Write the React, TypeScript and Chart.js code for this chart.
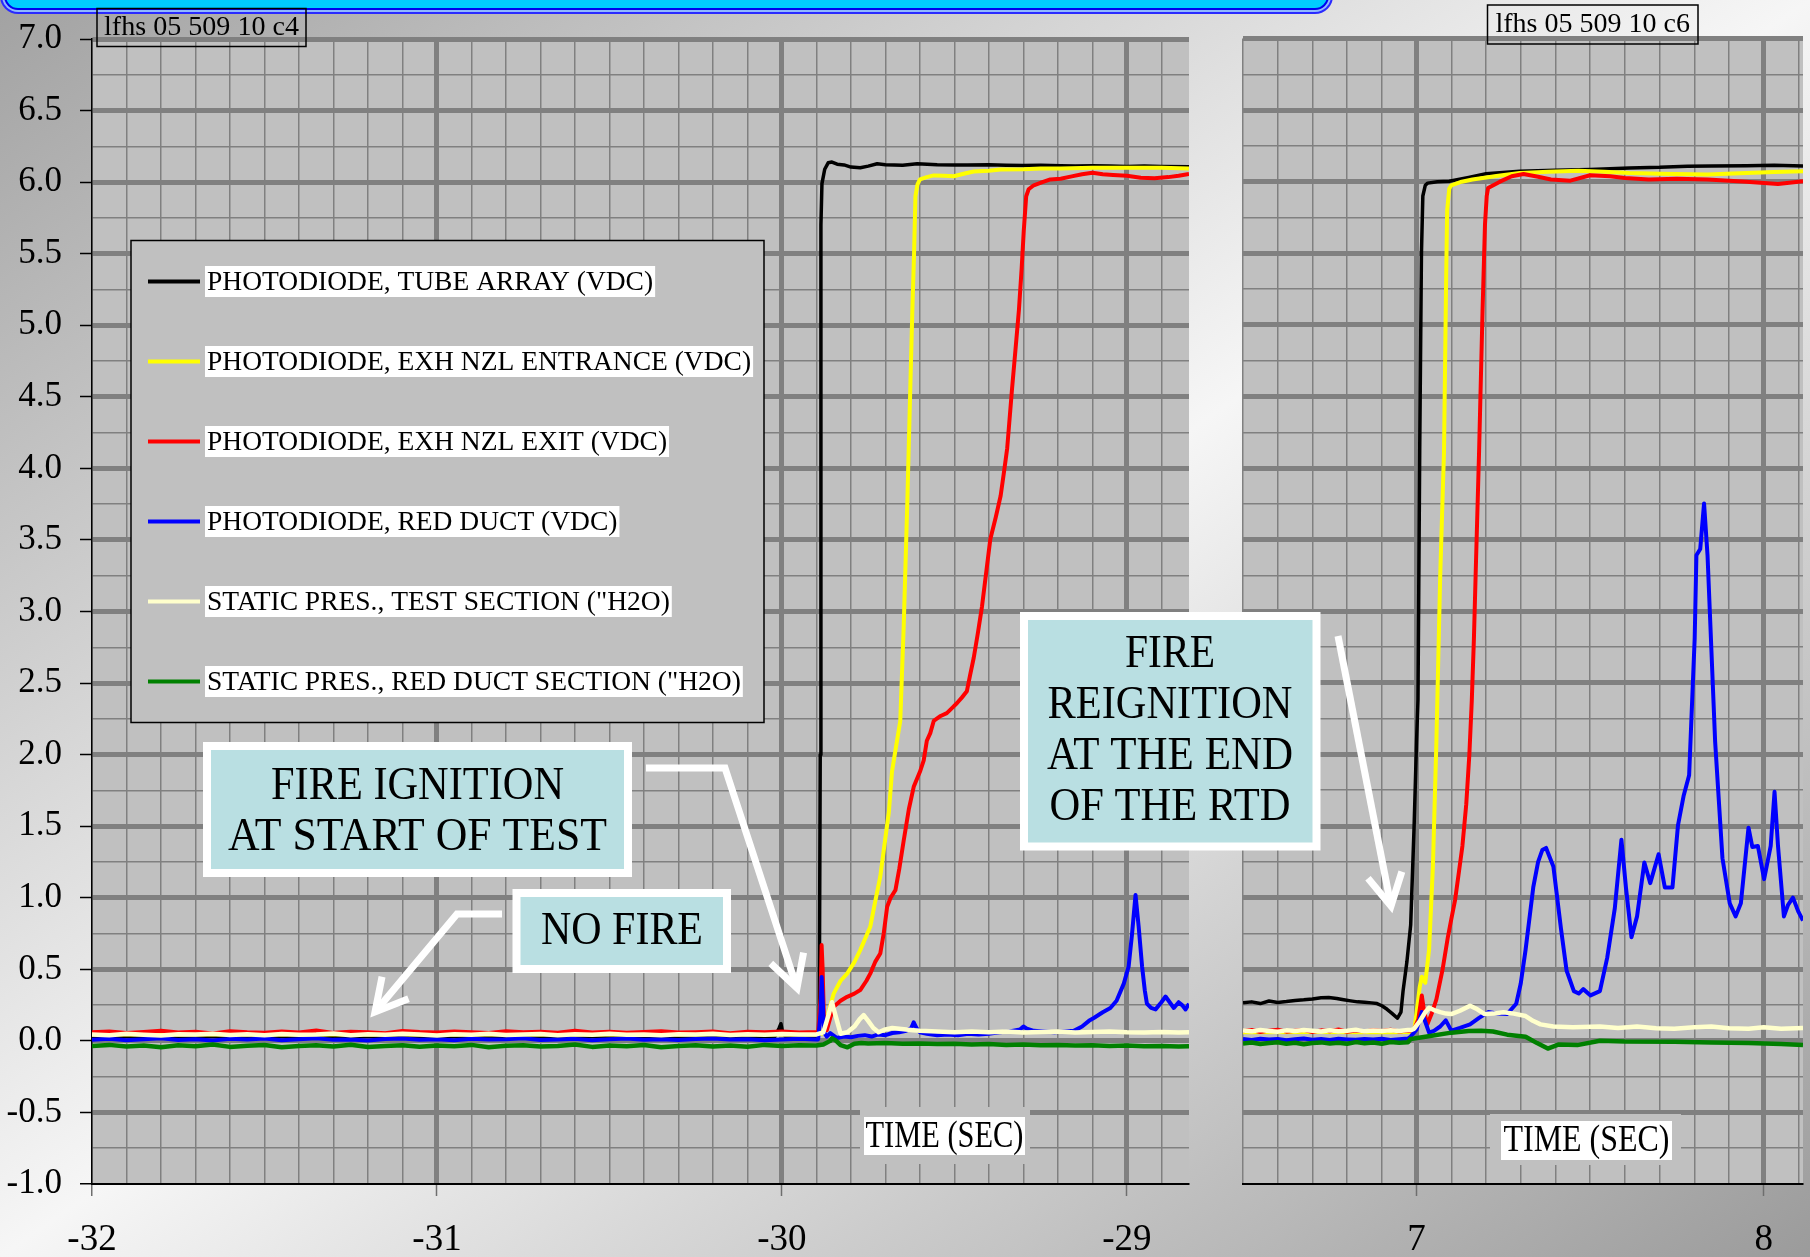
import React, { useEffect, useRef } from 'react';
import { Chart, registerables } from 'chart.js';

Chart.register(...registerables);

const W = 1810;
const H = 1257;
const SERIF = '"Liberation Serif", "Times New Roman", serif';

// ---------- series names and colours ----------
const SERIES_LABELS = [
  'PHOTODIODE, TUBE ARRAY (VDC)',
  'PHOTODIODE, EXH NZL ENTRANCE (VDC)',
  'PHOTODIODE, EXH NZL EXIT (VDC)',
  'PHOTODIODE, RED DUCT (VDC)',
  'STATIC PRES., TEST SECTION ("H2O)',
  'STATIC PRES., RED DUCT SECTION ("H2O)',
];
const SERIES_COLORS = ['#000000', '#ffff00', '#ff0000', '#0000ff', '#ffffcc', '#008000'];
const SERIES_WIDTHS = [3.5, 4, 4, 4, 4.5, 4.5];

// ---------- axis labels ----------
const LEFT_X_LABELS = [-32, -31, -30, -29];
const RIGHT_X_LABELS = [7, 8];
const Y_LABELS = [-1, -0.5, 0, 0.5, 1, 1.5, 2, 2.5, 3, 3.5, 4, 4.5, 5, 5.5, 6, 6.5, 7];

// ---------- start of test (left panel), seconds ----------
const LEFT_BASE_T = [
  -32, -31.95, -31.9, -31.85, -31.8, -31.75, -31.7, -31.65, -31.6, -31.55, -31.5, -31.45, -31.4, -31.35,
  -31.3, -31.25, -31.2, -31.15, -31.1, -31.05, -31, -30.95, -30.9, -30.85, -30.8, -30.75, -30.7, -30.65,
  -30.6, -30.55, -30.5, -30.45, -30.4, -30.35, -30.3, -30.25, -30.2, -30.15, -30.1, -30.05, -30, -29.95, -29.9,
];

const TUBE_T_LEFT = [
  -32, -31, -30.02, -30.008, -30.003, -29.998, -29.99, -29.9, -29.892, -29.889, -29.887, -29.884, -29.876,
  -29.866, -29.855, -29.84, -29.82, -29.8, -29.773, -29.75, -29.724, -29.7, -29.65, -29.608, -29.55, -29.5,
  -29.463, -29.4, -29.35, -29.3, -29.25, -29.192, -29.15, -29.1, -29.05, -29.0, -28.95, -28.9, -28.82,
];
const TUBE_V_LEFT = [
  0.03, 0.03, 0.03, 0.09, 0.12, 0.06, 0.03, 0.03, 0.05, 2.0, 5.7, 5.99, 6.09, 6.135, 6.14, 6.125, 6.12,
  6.105, 6.1, 6.112, 6.128, 6.122, 6.118, 6.128, 6.122, 6.12, 6.12, 6.122, 6.118, 6.116, 6.118, 6.115,
  6.113, 6.114, 6.112, 6.11, 6.112, 6.11, 6.108,
];

const ENTR_T_LEFT = [
  -32, -31, -30, -29.9, -29.885, -29.879, -29.865, -29.85, -29.83, -29.811, -29.79, -29.773, -29.744,
  -29.73, -29.715, -29.7, -29.69, -29.681, -29.671, -29.657, -29.647, -29.637, -29.628, -29.622, -29.617,
  -29.613, -29.607, -29.6, -29.58, -29.56, -29.53, -29.502, -29.47, -29.444, -29.4, -29.366, -29.3, -29.25,
  -29.192, -29.1, -29.0, -28.9, -28.82,
];
const ENTR_V_LEFT = [
  0.045, 0.045, 0.045, 0.045, 0.05, 0.075, 0.2, 0.33, 0.42, 0.47, 0.55, 0.634, 0.797, 0.97, 1.147, 1.42,
  1.6, 1.88, 2.03, 2.235, 2.898, 3.727, 4.555, 5.1, 5.5, 5.9, 5.985, 6.019, 6.035, 6.047, 6.045, 6.041,
  6.06, 6.074, 6.08, 6.088, 6.09, 6.095, 6.096, 6.1, 6.1, 6.1, 6.095,
];

const EXIT_BASE_LEFT = [
  0.06, 0.066, 0.055, 0.062, 0.07, 0.058, 0.064, 0.052, 0.068, 0.061, 0.057, 0.066, 0.059, 0.072, 0.056,
  0.063, 0.06, 0.054, 0.069, 0.062, 0.058, 0.065, 0.061, 0.055, 0.067, 0.06, 0.063, 0.057, 0.071, 0.059,
  0.064, 0.056, 0.062, 0.068, 0.058, 0.061, 0.066, 0.054, 0.063, 0.06, 0.065, 0.059, 0.062,
];
const EXIT_T_LEFT = [
  -29.895, -29.888, -29.885, -29.882, -29.878, -29.87, -29.86, -29.85, -29.83, -29.811,
  -29.79, -29.773, -29.755, -29.744, -29.73, -29.715, -29.705, -29.695, -29.685, -29.671,
  -29.66, -29.647, -29.632, -29.618, -29.6, -29.589, -29.58, -29.57, -29.56, -29.54,
  -29.522, -29.505, -29.493, -29.478, -29.464, -29.455, -29.444, -29.432, -29.42, -29.408,
  -29.396, -29.38, -29.366, -29.356, -29.347, -29.333, -29.323, -29.313, -29.305, -29.299,
  -29.292, -29.285, -29.27, -29.245, -29.222, -29.192, -29.16, -29.13, -29.1, -29.07,
  -29.04, -29.0, -28.96, -28.92, -28.88, -28.85, -28.82,
];
const EXIT_V_LEFT = [
  0.06, 0.3, 0.67, 0.5, 0.12, 0.075, 0.16, 0.238, 0.28, 0.308,
  0.33, 0.355, 0.42, 0.47, 0.55, 0.61, 0.75, 0.937, 1.0, 1.053,
  1.2, 1.4, 1.62, 1.775, 1.88, 1.96, 2.097, 2.15, 2.235, 2.27,
  2.29, 2.33, 2.359, 2.4, 2.442, 2.55, 2.677, 2.85, 3.036, 3.27,
  3.505, 3.66, 3.809, 3.98, 4.141, 4.555, 4.83, 5.107, 5.4, 5.66,
  5.9, 5.95, 5.978, 6.0, 6.019, 6.024, 6.04, 6.055, 6.066, 6.055,
  6.05, 6.045, 6.03, 6.027, 6.035, 6.045, 6.057,
];

const DUCT_BASE_LEFT = [
  0.008, 0.015, 0.004, 0.012, 0.018, 0.006, 0.011, 0.002, 0.014, 0.009, 0.016, 0.005, 0.012, 0.019, 0.007,
  0.01, 0.003, 0.013, 0.017, 0.008, 0.011, 0.005, 0.015, 0.009, 0.012, 0.018, 0.006, 0.01, 0.014, 0.004,
  0.012, 0.016, 0.008, 0.011, 0.006, 0.013, 0.017, 0.009, 0.012, 0.005, 0.01, 0.014, 0.01,
];
const DUCT_T_LEFT = [
  -29.895, -29.888, -29.885, -29.882, -29.878, -29.87, -29.86, -29.84, -29.82, -29.8,
  -29.78, -29.76, -29.74, -29.72, -29.7, -29.68, -29.66, -29.64, -29.625, -29.618,
  -29.61, -29.6, -29.58, -29.55, -29.52, -29.49, -29.46, -29.43, -29.4, -29.37,
  -29.34, -29.31, -29.3, -29.29, -29.27, -29.24, -29.21, -29.18, -29.154, -29.13,
  -29.11, -29.096, -29.07, -29.048, -29.03, -29.009, -28.995, -28.985, -28.975, -28.966,
  -28.956, -28.948, -28.942, -28.93, -28.917, -28.9, -28.888, -28.876, -28.864, -28.85,
  -28.84, -28.83, -28.82,
];
const DUCT_V_LEFT = [
  0.01, 0.2, 0.447, 0.3, 0.06, 0.03, 0.054, 0.02, 0.03, 0.025,
  0.035, 0.04, 0.03, 0.045, 0.04, 0.055, 0.06, 0.07, 0.09, 0.13,
  0.09, 0.06, 0.05, 0.04, 0.045, 0.04, 0.05, 0.045, 0.05, 0.06,
  0.065, 0.08, 0.1, 0.085, 0.07, 0.065, 0.06, 0.065, 0.07, 0.1,
  0.14, 0.16, 0.2, 0.23, 0.28, 0.4, 0.52, 0.75, 1.02, 0.8,
  0.52, 0.35, 0.26, 0.23, 0.22, 0.27, 0.31, 0.27, 0.23, 0.27,
  0.25, 0.22, 0.26,
];

const TEST_BASE_LEFT = [
  0.045, 0.04, 0.049, 0.043, 0.038, 0.047, 0.044, 0.05, 0.041, 0.046, 0.039, 0.048, 0.043, 0.045, 0.051,
  0.04, 0.046, 0.042, 0.049, 0.044, 0.038, 0.047, 0.043, 0.05, 0.041, 0.045, 0.048, 0.039, 0.046, 0.043,
  0.049, 0.042, 0.045, 0.04, 0.047, 0.044, 0.05, 0.041, 0.046, 0.043, 0.048, 0.044, 0.045,
];
const TEST_T_LEFT = [
  -29.88, -29.865, -29.855, -29.845, -29.83, -29.81, -29.79, -29.775, -29.763, -29.75, -29.735, -29.72,
  -29.7, -29.68, -29.66, -29.64, -29.62, -29.6, -29.55, -29.5, -29.45, -29.4, -29.35, -29.3, -29.25, -29.2,
  -29.15, -29.1, -29.05, -29.0, -28.95, -28.9, -28.85, -28.82,
];
const TEST_V_LEFT = [
  0.06, 0.18, 0.27, 0.18, 0.05, 0.06, 0.1, 0.15, 0.18, 0.14, 0.09, 0.06, 0.08, 0.09, 0.085, 0.08, 0.075,
  0.07, 0.065, 0.06, 0.065, 0.06, 0.065, 0.058, 0.062, 0.065, 0.058, 0.062, 0.065, 0.06, 0.058, 0.062,
  0.058, 0.06,
];

const RDS_BASE_LEFT = [
  -0.035, -0.028, -0.04, -0.032, -0.045, -0.03, -0.038, -0.026, -0.042, -0.034, -0.029, -0.044, -0.036,
  -0.031, -0.039, -0.027, -0.043, -0.035, -0.03, -0.041, -0.033, -0.037, -0.028, -0.045, -0.034, -0.03,
  -0.04, -0.036, -0.026, -0.042, -0.032, -0.038, -0.029, -0.044, -0.035, -0.031, -0.039, -0.033, -0.041,
  -0.028, -0.036, -0.03, -0.032,
];
const RDS_T_LEFT = [
  -29.88, -29.86, -29.855, -29.845, -29.83, -29.81, -29.79, -29.77, -29.75, -29.7, -29.65, -29.6, -29.55,
  -29.5, -29.45, -29.4, -29.35, -29.3, -29.25, -29.2, -29.15, -29.1, -29.05, -29.0, -28.95, -28.9, -28.85,
  -28.82,
];
const RDS_V_LEFT = [
  -0.025, 0.0, 0.018, 0.005, -0.03, -0.045, -0.02, -0.015, -0.018, -0.015, -0.02, -0.018, -0.022, -0.02,
  -0.025, -0.022, -0.028, -0.025, -0.03, -0.028, -0.032, -0.03, -0.035, -0.032, -0.038, -0.035, -0.04,
  -0.038,
];

// ---------- end of the RTD (right panel), seconds ----------
const RIGHT_BASE_T = [
  6.5, 6.525, 6.55, 6.575, 6.6, 6.625, 6.65, 6.675, 6.7, 6.725, 6.75, 6.775, 6.8, 6.825, 6.85, 6.875, 6.9,
  6.925, 6.95, 6.975,
];

const TUBE_T_RIGHT = [
  6.5, 6.525, 6.55, 6.575, 6.6, 6.625, 6.65, 6.675, 6.7, 6.725,
  6.747, 6.77, 6.79, 6.81, 6.83, 6.85, 6.87, 6.886, 6.9, 6.915,
  6.93, 6.945, 6.955, 6.961, 6.972, 6.983, 6.993, 7.0, 7.004, 7.009,
  7.014, 7.018, 7.025, 7.032, 7.06, 7.094, 7.15, 7.2, 7.297, 7.4,
  7.5, 7.613, 7.7, 7.78, 7.85, 7.951, 8.03, 8.113,
];
const TUBE_V_RIGHT = [
  0.265, 0.272, 0.26, 0.278, 0.268, 0.274, 0.282, 0.286, 0.292, 0.3,
  0.303, 0.296, 0.287, 0.279, 0.272, 0.27, 0.265, 0.26, 0.245, 0.22,
  0.19, 0.158, 0.2, 0.347, 0.55, 0.81, 1.51, 2.1, 2.38, 4.12,
  5.5, 5.9, 5.975, 5.99, 6.0, 6.003, 6.03, 6.055, 6.073, 6.08,
  6.085, 6.096, 6.1, 6.108, 6.11, 6.112, 6.115, 6.11,
];

const ENTR_T_RIGHT = [
  6.5, 6.7, 6.9, 6.98, 6.993, 7.0, 7.009, 7.015, 7.025, 7.036, 7.047, 7.057, 7.068, 7.079, 7.085, 7.088,
  7.094, 7.1, 7.13, 7.161, 7.23, 7.297, 7.38, 7.466, 7.54, 7.613, 7.7, 7.838, 7.95, 8.03, 8.113,
];
const ENTR_V_RIGHT = [
  0.06, 0.062, 0.06, 0.062, 0.071, 0.2, 0.375, 0.448, 0.405, 0.637, 1.217, 2.086, 3.246, 4.116, 5.3, 5.8,
  5.95, 5.975, 6.0, 6.015, 6.04, 6.061, 6.07, 6.077, 6.07, 6.061, 6.055, 6.05, 6.06, 6.068, 6.073,
];

const EXIT_BASE_RIGHT = [
  0.068, 0.075, 0.062, 0.071, 0.078, 0.064, 0.07, 0.076, 0.061, 0.073, 0.067, 0.079, 0.063, 0.072, 0.066,
  0.074, 0.069, 0.077, 0.065, 0.072,
];
const EXIT_T_RIGHT = [
  6.985, 6.993, 7.005, 7.015, 7.022, 7.031, 7.045, 7.057, 7.075, 7.09,
  7.1, 7.111, 7.122, 7.132, 7.143, 7.152, 7.159, 7.165, 7.17, 7.18,
  7.19, 7.197, 7.202, 7.206, 7.24, 7.274, 7.308, 7.35, 7.387, 7.443,
  7.5, 7.557, 7.6, 7.669, 7.75, 7.838, 7.95, 8.041, 8.08, 8.113,
];
const EXIT_V_RIGHT = [
  0.07, 0.08, 0.15, 0.317, 0.2, 0.115, 0.2, 0.289, 0.5, 0.723,
  0.85, 0.985, 1.18, 1.361, 1.651, 2.0, 2.376, 2.8, 3.246, 4.116,
  5.1, 5.7, 5.9, 5.956, 6.0, 6.038, 6.054, 6.035, 6.015, 6.007,
  6.045, 6.038, 6.025, 6.015, 6.02, 6.015, 6.0, 5.984, 5.995, 6.003,
];

const DUCT_BASE_RIGHT = [
  0.012, 0.006, 0.015, 0.009, 0.013, 0.004, 0.011, 0.016, 0.008, 0.012, 0.005, 0.014, 0.01, 0.007, 0.013,
  0.009, 0.015, 0.006, 0.011, 0.016,
];
const DUCT_T_RIGHT = [
  6.983, 7.0, 7.015, 7.036, 7.05, 7.068, 7.084, 7.1, 7.125, 7.154,
  7.18, 7.207, 7.235, 7.261, 7.287, 7.3, 7.314, 7.336, 7.35, 7.362,
  7.373, 7.394, 7.416, 7.432, 7.453, 7.467, 7.48, 7.501, 7.528, 7.549,
  7.571, 7.59, 7.603, 7.619, 7.635, 7.656, 7.673, 7.697, 7.715, 7.737,
  7.753, 7.769, 7.785, 7.801, 7.806, 7.817, 7.828, 7.838, 7.86, 7.881,
  7.902, 7.919, 7.934, 7.956, 7.967, 7.983, 8.001, 8.02, 8.031, 8.041,
  8.058, 8.07, 8.084, 8.1, 8.113,
];
const DUCT_V_RIGHT = [
  0.03, 0.08, 0.201, 0.057, 0.07, 0.1, 0.143, 0.071, 0.09, 0.115,
  0.16, 0.201, 0.19, 0.187, 0.259, 0.4, 0.637, 1.071, 1.25, 1.332,
  1.347, 1.217, 0.781, 0.491, 0.347, 0.33, 0.361, 0.317, 0.347, 0.579,
  0.927, 1.405, 1.071, 0.723, 0.869, 1.245, 1.101, 1.303, 1.071, 1.071,
  1.507, 1.709, 1.854, 2.811, 3.391, 3.435, 3.753, 3.391, 2.086, 1.275,
  0.96, 0.869, 0.96, 1.488, 1.354, 1.361, 1.129, 1.361, 1.739, 1.361,
  0.869, 0.95, 1.0, 0.9, 0.84,
];

const TEST_BASE_RIGHT = [
  0.072, 0.066, 0.075, 0.069, 0.064, 0.073, 0.068, 0.076, 0.07, 0.065, 0.074, 0.067, 0.071, 0.077, 0.066,
  0.072, 0.069, 0.074, 0.068, 0.075,
];
const TEST_T_RIGHT = [
  6.985, 6.993, 7.01, 7.025, 7.036, 7.05, 7.068, 7.085, 7.1, 7.125, 7.154, 7.175, 7.196, 7.22, 7.25, 7.28,
  7.314, 7.335, 7.357, 7.394, 7.45, 7.528, 7.58, 7.635, 7.69, 7.742, 7.8, 7.849, 7.9, 7.956, 8.0, 8.05, 8.113,
];
const TEST_V_RIGHT = [
  0.075, 0.085, 0.14, 0.2, 0.231, 0.215, 0.2, 0.19, 0.187, 0.21, 0.245, 0.22, 0.187, 0.19, 0.2, 0.19,
  0.173, 0.14, 0.115, 0.1, 0.095, 0.1, 0.09, 0.1, 0.088, 0.085, 0.095, 0.1, 0.088, 0.085, 0.095, 0.085, 0.09,
];

const RDS_BASE_RIGHT = [
  -0.018, -0.012, -0.022, -0.015, -0.01, -0.02, -0.014, -0.024, -0.016, -0.011, -0.019, -0.013, -0.021,
  -0.009, -0.017, -0.012, -0.02, -0.008, -0.014, -0.01,
];
const RDS_T_RIGHT = [
  6.983, 7.03, 7.1, 7.15, 7.186, 7.22, 7.261, 7.314, 7.347, 7.378, 7.41, 7.463, 7.528, 7.6, 7.742, 7.85,
  7.956, 8.05, 8.113,
];
const RDS_V_RIGHT = [
  0.013, 0.03, 0.057, 0.068, 0.071, 0.065, 0.043, 0.028, -0.016, -0.054, -0.025, -0.03, 0.0, -0.005,
  -0.006, -0.012, -0.016, -0.022, -0.03,
];

// ---------- helpers ----------
type Pt = { x: number; y: number };
const pts = (ts: number[], vs: number[]): Pt[] => ts.map((t, i) => ({ x: t, y: vs[i] }));

function gridSteps(from: number, to: number, step: number): number[] {
  const out: number[] = [];
  const n = Math.round((to - from) / step);
  for (let i = 0; i <= n; i++) out.push(Math.round((from + i * step) * 1000) / 1000);
  return out;
}
const isMultiple = (v: number, unit: number) => Math.abs(v / unit - Math.round(v / unit)) < 1e-6;

const GRID_COLOR = '#808080';
const Y_GRID = gridSteps(-1, 7, 0.25);

function makeDatasets(series: Pt[][]) {
  return series.map((data, i) => ({
    label: SERIES_LABELS[i],
    data,
    borderColor: SERIES_COLORS[i],
    backgroundColor: SERIES_COLORS[i],
    borderWidth: SERIES_WIDTHS[i],
    pointRadius: 0,
    tension: 0,
    fill: false,
    borderJoinStyle: 'round',
    order: 5 - i,
  }));
}

function makeOptions(cfg: {
  xMin: number;
  xMax: number;
  xGrid: number[];
  xLabels: number[];
  padding: { left: number; right: number; top: number; bottom: number };
  showY: boolean;
}) {
  return {
    animation: false,
    responsive: false,
    maintainAspectRatio: false,
    events: [],
    layout: { padding: cfg.padding },
    plugins: { legend: { display: false }, tooltip: { enabled: false }, title: { display: false } },
    scales: {
      x: {
        type: 'linear',
        position: 'bottom',
        min: cfg.xMin,
        max: cfg.xMax,
        afterBuildTicks: (s: any) => {
          s.ticks = cfg.xGrid.map((v) => ({ value: v }));
        },
        afterFit: (s: any) => {
          s.height = 73;
          s.paddingLeft = 0;
          s.paddingRight = 0;
        },
        ticks: {
          autoSkip: false,
          maxRotation: 0,
          minRotation: 0,
          padding: 22,
          color: '#000',
          font: { family: SERIF, size: 37 },
          callback: (v: number) => (cfg.xLabels.some((l) => Math.abs(l - v) < 1e-6) ? String(Math.round(v)) : ''),
        },
        grid: {
          color: GRID_COLOR,
          lineWidth: (c: any) => {
            const v = c.tick ? c.tick.value : NaN;
            if (Math.abs(v - cfg.xMin) < 1e-6) return 1.5;
            return isMultiple(v, 1) ? 5 : 1.5;
          },
          drawTicks: true,
          tickLength: 12,
          tickWidth: 1.5,
          tickColor: (c: any) => (c.tick && isMultiple(c.tick.value, 1) ? '#6e6e6e' : 'rgba(0,0,0,0)'),
        },
        border: { display: true, color: '#000', width: 2 },
      },
      y: {
        type: 'linear',
        position: 'left',
        min: -1,
        max: 7,
        afterBuildTicks: (s: any) => {
          s.ticks = Y_GRID.map((v) => ({ value: v }));
        },
        afterFit: (s: any) => {
          s.width = cfg.showY ? 92 : 0;
        },
        ticks: {
          display: cfg.showY,
          autoSkip: false,
          padding: 18,
          color: '#000',
          font: { family: SERIF, size: 35 },
          callback: (v: number) => (Y_LABELS.some((l) => Math.abs(l - v) < 1e-6) ? v.toFixed(1) : ''),
        },
        grid: {
          color: GRID_COLOR,
          lineWidth: (c: any) => {
            const v = c.tick ? c.tick.value : NaN;
            if (Math.abs(v + 1) < 1e-6) return 1.5;
            return isMultiple(v, 0.5) ? 5 : 1.5;
          },
          drawTicks: cfg.showY,
          tickLength: 12,
          tickWidth: 1.5,
          tickColor: (c: any) => (c.tick && isMultiple(c.tick.value, 0.5) ? '#000' : 'rgba(0,0,0,0)'),
        },
        border: { display: cfg.showY, color: '#000', width: 1.5 },
      },
    },
  };
}

// ---------- canvas drawing helpers ----------
function fittedText(ctx: CanvasRenderingContext2D, text: string, cx: number, cy: number, size: number, width: number) {
  ctx.save();
  ctx.font = `${size}px ${SERIF}`;
  const natural = ctx.measureText(text).width;
  ctx.translate(cx, cy);
  ctx.scale(width / natural, 1);
  ctx.textAlign = 'center';
  ctx.textBaseline = 'middle';
  ctx.fillStyle = '#000';
  ctx.fillText(text, 0, 0);
  ctx.restore();
}

function calloutBox(ctx: CanvasRenderingContext2D, x0: number, y0: number, x1: number, y1: number) {
  ctx.save();
  ctx.fillStyle = '#ffffff';
  ctx.fillRect(x0, y0, x1 - x0, y1 - y0);
  ctx.fillStyle = '#b9dfe2';
  ctx.fillRect(x0 + 8, y0 + 8, x1 - x0 - 16, y1 - y0 - 16);
  ctx.restore();
}

function whiteArrow(ctx: CanvasRenderingContext2D, path: [number, number][]) {
  ctx.save();
  ctx.strokeStyle = '#ffffff';
  ctx.lineWidth = 7;
  ctx.lineJoin = 'miter';
  ctx.lineCap = 'butt';
  ctx.beginPath();
  ctx.moveTo(path[0][0], path[0][1]);
  for (let i = 1; i < path.length; i++) ctx.lineTo(path[i][0], path[i][1]);
  ctx.stroke();
  const [tx, ty] = path[path.length - 1];
  const [px, py] = path[path.length - 2];
  const ang = Math.atan2(ty - py, tx - px);
  const len = 36;
  const spread = 0.5;
  ctx.beginPath();
  ctx.moveTo(tx - len * Math.cos(ang - spread), ty - len * Math.sin(ang - spread));
  ctx.lineTo(tx, ty);
  ctx.lineTo(tx - len * Math.cos(ang + spread), ty - len * Math.sin(ang + spread));
  ctx.stroke();
  ctx.restore();
}

function titleTag(ctx: CanvasRenderingContext2D, text: string, x0: number, y0: number, x1: number, y1: number, textW: number) {
  ctx.save();
  ctx.strokeStyle = '#000';
  ctx.lineWidth = 1.5;
  ctx.strokeRect(x0, y0, x1 - x0, y1 - y0);
  ctx.restore();
  fittedText(ctx, text, (x0 + x1) / 2, (y0 + y1) / 2 + 0.5, 27, textW);
}

function axisTitle(ctx: CanvasRenderingContext2D, cover: number[], box: number[], textW: number) {
  ctx.save();
  ctx.fillStyle = '#c0c0c0';
  ctx.fillRect(cover[0], cover[1], cover[2] - cover[0], cover[3] - cover[1]);
  ctx.fillStyle = '#ffffff';
  ctx.fillRect(box[0], box[1], box[2] - box[0], box[3] - box[1]);
  ctx.restore();
  fittedText(ctx, 'TIME (SEC)', (box[0] + box[2]) / 2, (box[1] + box[3]) / 2 + 1, 37, textW);
}

const plotBackground = {
  id: 'plotBackground',
  beforeDraw(chart: any) {
    const { ctx, chartArea: a } = chart;
    ctx.save();
    ctx.fillStyle = '#c0c0c0';
    ctx.fillRect(a.left, a.top, a.right - a.left, a.bottom - a.top);
    ctx.restore();
  },
};

const leftOverlay = {
  id: 'leftOverlay',
  afterDraw(chart: any) {
    const ctx: CanvasRenderingContext2D = chart.ctx;
    // legend panel
    ctx.save();
    ctx.fillStyle = '#c0c0c0';
    ctx.fillRect(131, 240.5, 633, 482);
    ctx.strokeStyle = '#000';
    ctx.lineWidth = 1.5;
    ctx.strokeRect(131, 240.5, 633, 482);
    ctx.font = `27.5px ${SERIF}`;
    ctx.textBaseline = 'middle';
    ctx.textAlign = 'left';
    chart.data.datasets.forEach((ds: any, i: number) => {
      const cy = 281.5 + i * 80;
      ctx.strokeStyle = ds.borderColor;
      ctx.lineWidth = 4;
      ctx.beginPath();
      ctx.moveTo(148, cy);
      ctx.lineTo(200, cy);
      ctx.stroke();
      const w = ctx.measureText(ds.label).width;
      ctx.fillStyle = '#ffffff';
      ctx.fillRect(205, cy - 15.5, w + 4, 31);
      ctx.fillStyle = '#000';
      ctx.fillText(ds.label, 207, cy + 1);
    });
    ctx.restore();

    titleTag(ctx, 'lfhs 05 509 10 c4', 97, 8.5, 306, 46.5, 195);
    axisTitle(ctx, [860, 1107, 1030, 1164], [864, 1117, 1025, 1155], 158);
  },
};

const rightOverlay = {
  id: 'rightOverlay',
  afterDraw(chart: any) {
    const ctx: CanvasRenderingContext2D = chart.ctx;
    titleTag(ctx, 'lfhs 05 509 10 c6', 1487.5, 5, 1698, 44, 194.5);
    axisTitle(ctx, [1490, 1114, 1681, 1165], [1501, 1121, 1672, 1160], 166);

    // start-of-test callout
    calloutBox(ctx, 203, 742, 632, 877);
    fittedText(ctx, 'FIRE IGNITION', 417.5, 787, 47, 293);
    fittedText(ctx, 'AT START OF TEST', 417.5, 838, 47, 379);
    whiteArrow(ctx, [
      [646, 768],
      [725, 768],
      [797, 988],
    ]);

    // baseline callout
    calloutBox(ctx, 512.5, 889, 731, 973);
    fittedText(ctx, 'NO FIRE', 622, 932, 47, 162);
    whiteArrow(ctx, [
      [502, 914],
      [457, 914],
      [375, 1012],
    ]);

    // end-of-RTD callout
    calloutBox(ctx, 1020, 612, 1320.5, 850.5);
    fittedText(ctx, 'FIRE', 1170, 655, 47, 90);
    fittedText(ctx, 'REIGNITION', 1170, 706, 47, 245);
    fittedText(ctx, 'AT THE END', 1170, 757, 47, 246);
    fittedText(ctx, 'OF THE RTD', 1170, 808, 47, 241);
    whiteArrow(ctx, [
      [1338, 636],
      [1391, 906],
    ]);
  },
};

export default function App() {
  const leftRef = useRef<HTMLCanvasElement>(null);
  const rightRef = useRef<HTMLCanvasElement>(null);

  useEffect(() => {
    const leftSeries = [
      pts(TUBE_T_LEFT, TUBE_V_LEFT),
      pts(ENTR_T_LEFT, ENTR_V_LEFT),
      pts(LEFT_BASE_T, EXIT_BASE_LEFT).concat(pts(EXIT_T_LEFT, EXIT_V_LEFT)),
      pts(LEFT_BASE_T, DUCT_BASE_LEFT).concat(pts(DUCT_T_LEFT, DUCT_V_LEFT)),
      pts(LEFT_BASE_T, TEST_BASE_LEFT).concat(pts(TEST_T_LEFT, TEST_V_LEFT)),
      pts(LEFT_BASE_T, RDS_BASE_LEFT).concat(pts(RDS_T_LEFT, RDS_V_LEFT)),
    ];
    const rightSeries = [
      pts(TUBE_T_RIGHT, TUBE_V_RIGHT),
      pts(ENTR_T_RIGHT, ENTR_V_RIGHT),
      pts(RIGHT_BASE_T, EXIT_BASE_RIGHT).concat(pts(EXIT_T_RIGHT, EXIT_V_RIGHT)),
      pts(RIGHT_BASE_T, DUCT_BASE_RIGHT).concat(pts(DUCT_T_RIGHT, DUCT_V_RIGHT)),
      pts(RIGHT_BASE_T, TEST_BASE_RIGHT).concat(pts(TEST_T_RIGHT, TEST_V_RIGHT)),
      pts(RIGHT_BASE_T, RDS_BASE_RIGHT).concat(pts(RDS_T_RIGHT, RDS_V_RIGHT)),
    ];

    const left = new Chart(leftRef.current as HTMLCanvasElement, {
      type: 'line',
      data: { datasets: makeDatasets(leftSeries) } as any,
      options: makeOptions({
        xMin: -32,
        xMax: -28.82,
        xGrid: gridSteps(-32, -28.9, 0.1),
        xLabels: LEFT_X_LABELS,
        padding: { left: 0, right: W - 1189, top: 38.5, bottom: 0 },
        showY: true,
      }) as any,
      plugins: [plotBackground, leftOverlay],
    });

    const right = new Chart(rightRef.current as HTMLCanvasElement, {
      type: 'line',
      data: { datasets: makeDatasets(rightSeries) } as any,
      options: makeOptions({
        xMin: 6.5,
        xMax: 8.113,
        xGrid: gridSteps(6.5, 8.1, 0.1),
        xLabels: RIGHT_X_LABELS,
        padding: { left: 1243, right: W - 1803, top: 38.5, bottom: 0 },
        showY: false,
      }) as any,
      plugins: [plotBackground, rightOverlay],
    });

    return () => {
      left.destroy();
      right.destroy();
    };
  }, []);

  const canvasStyle: React.CSSProperties = { position: 'absolute', left: 0, top: 0, width: W, height: H };

  return (
    <div
      style={{
        position: 'fixed',
        left: 0,
        top: 0,
        width: W,
        height: H,
        overflow: 'hidden',
        background: 'linear-gradient(to bottom right, #a2a2a2 0%, #f6f6f6 50%, #9b9b9b 100%)',
      }}
    >
      <div
        style={{
          position: 'absolute',
          left: 4,
          top: -30,
          width: 1321,
          height: 36,
          background: '#00ccff',
          border: '2px solid #0000ee',
          borderRadius: 14,
          boxShadow: '0 0 0 2px #8fb8ff, 0 0 0 4px #2a2aff',
        }}
      />
      <canvas ref={leftRef} width={W} height={H} style={canvasStyle} />
      <canvas ref={rightRef} width={W} height={H} style={canvasStyle} />
    </div>
  );
}
